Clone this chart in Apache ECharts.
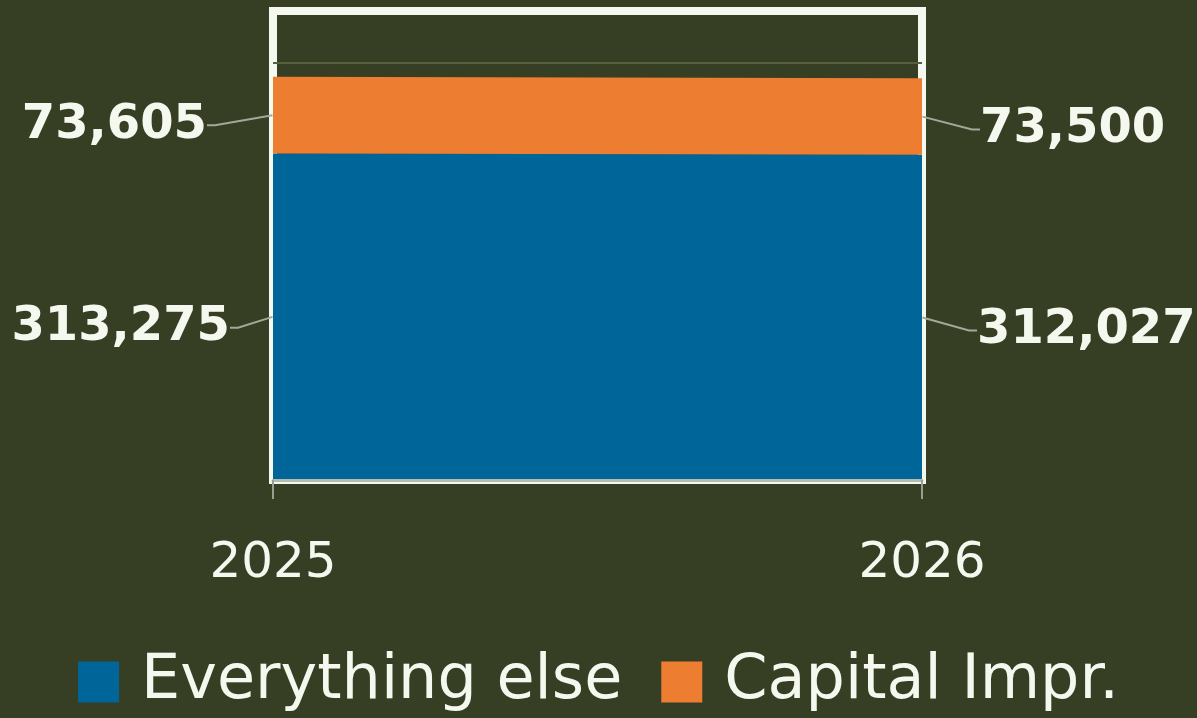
<!DOCTYPE html>
<html><head><meta charset="utf-8">
<script src="https://cdn.jsdelivr.net/npm/echarts@6/dist/echarts.min.js"></script>
<style>html,body{margin:0;padding:0;background:#363F24;}#c{width:1197px;height:718px;}</style>
</head><body><div id="c"></div>
<script>
const categories = ['2025', '2026'];
const everythingElse = [313275, 312027];
const capitalImpr = [73605, 73500];
const seriesNames = ['Everything else', 'Capital Impr.'];
const yMax = 450000;
const yInterval = 100000;

const TXT = '#F4F8EE';
const fmt = v => v.toLocaleString('en-US');

// label anchors at the middle of each band
const labelPts = [];
categories.forEach((c, i) => {
  labelPts.push({ value: [i, everythingElse[i] / 2], text: fmt(everythingElse[i]), side: i === 0 ? 'left' : 'right', band: 0 });
  labelPts.push({ value: [i, everythingElse[i] + capitalImpr[i] / 2], text: fmt(capitalImpr[i]), side: i === 0 ? 'left' : 'right', band: 1 });
});

const chart = echarts.init(document.getElementById('c'));
chart.setOption({
  backgroundColor: '#363F24',
  animation: false,
  grid: { left: 273, right: 275, top: 11, bottom: 238, show: true, borderColor: TXT, borderWidth: 8, backgroundColor: 'transparent' },
  legend: {
    bottom: 0, left: 'center', itemWidth: 41, itemHeight: 41, itemGap: 39, icon: 'rect',
    data: seriesNames,
    textStyle: { color: TXT, fontSize: 62, fontFamily: 'DejaVu Sans', padding: [4, 0, 0, 17] }
  },
  xAxis: {
    type: 'category', data: categories, boundaryGap: false,
    axisLine: { show: true, lineStyle: { color: '#B7BBAE', width: 3 } },
    axisTick: { show: true, length: 19, lineStyle: { color: '#9A9E92', width: 2 } },
    axisLabel: { color: TXT, fontSize: 50, fontFamily: 'DejaVu Sans', margin: 59 },
    splitLine: { show: false },
    z: 5
  },
  yAxis: {
    type: 'value', min: 0, max: yMax, interval: yInterval,
    axisLabel: { show: false }, axisLine: { show: false }, axisTick: { show: false },
    splitLine: { show: true, lineStyle: { color: ['rgba(0,0,0,0)', 'rgba(0,0,0,0)', 'rgba(0,0,0,0)', 'rgba(0,0,0,0)', '#55603F', 'rgba(0,0,0,0)'], width: 2 } }
  },
  series: [
    { name: seriesNames[0], type: 'line', stack: 't', data: everythingElse, symbol: 'none', lineStyle: { width: 0 },
      itemStyle: { color: '#006699' }, areaStyle: { color: '#006699', opacity: 1 }, z: 3 },
    { name: seriesNames[1], type: 'line', stack: 't', data: capitalImpr, symbol: 'none', lineStyle: { width: 0 },
      itemStyle: { color: '#ED7D31' }, areaStyle: { color: '#ED7D31', opacity: 1 }, z: 3 },
    { type: 'scatter', symbolSize: 1, silent: true, z: 6,
      itemStyle: { opacity: 1, color: 'rgba(0,0,0,0)' },
      data: labelPts.map(p => ({
        value: p.value, name: p.text,
        label: { show: true, formatter: p.text, color: TXT, fontSize: 48, fontWeight: 'bold', fontFamily: 'DejaVu Sans', opacity: 1 }
      })),
      labelLayout: function (params) {
        const d = labelPts[params.dataIndex];
        const ax = params.rect.x + params.rect.width / 2;
        const ay = params.rect.y + params.rect.height / 2;
        const gap = d.side === 'left' ? (d.band === 1 ? 66 : 43) : (d.band === 1 ? 58 : 55);
        const dy = d.side === 'left' ? (d.band === 1 ? 10 : 11) : (d.band === 1 ? 13 : 13);
        return {
          x: d.side === 'left' ? ax - gap : ax + gap,
          y: ay + dy,
          align: d.side === 'left' ? 'right' : 'left',
          verticalAlign: 'middle'
        };
      },
      labelLine: { show: true, length2: 8, lineStyle: { color: '#A4A89A', width: 2, opacity: 1 } }
    }
  ]
});
</script></body></html>
